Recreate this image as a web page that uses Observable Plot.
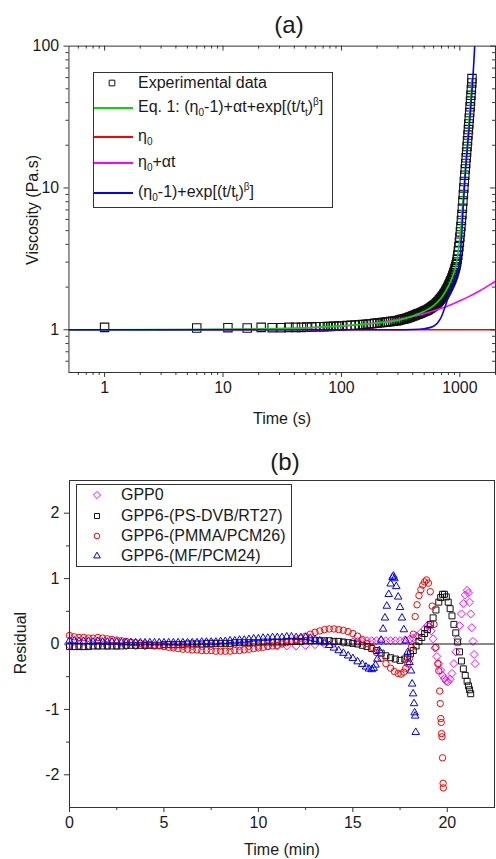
<!DOCTYPE html>
<html lang="en">
<head>
<meta charset="utf-8">
<title>Viscosity fit and residuals</title>
<script src="https://cdn.jsdelivr.net/npm/d3@7"></script>
<script src="https://cdn.jsdelivr.net/npm/@observablehq/plot@0.6"></script>
<style>
  html, body { margin:0; padding:0; background:#fff; }
  body { width:496px; height:859px; overflow:hidden; }
  #page { position:relative; width:496px; height:859px; overflow:hidden;
          font-family:"Liberation Sans", Arial, Helvetica, sans-serif; color:#1a1a1a; }
  #page > * { position:absolute; }
  .t { white-space:nowrap; line-height:18px; font-size:16px; }
  .legend { border:1px solid #333; box-sizing:border-box; background:#fff; }
  sub { font-size:10px; vertical-align:-4px; line-height:0; }
  sup { font-size:10px; vertical-align:7px; line-height:0; }
</style>
</head>
<body>
<div id="page"></div>
<script>
// ---------------- Panel (a) data ----------------
const expTime = [1,6,11,16,21,26,31,36,41,46,51,56,61,66,71,76,81,86,91,96,
  101,111,121,131,141,151,161,171,181,191,
  201,211,221,231,241,251,261,271,281,291,
  301,311,321,331,341,351,361,371,381,391,
  401,411,421,431,441,451,461,471,481,491,
  501,511,521,531,541,551,561,571,581,591,
  601,611,621,631,641,651,661,671,681,691,
  701,711,721,731,741,751,761,771,781,791,
  801,811,821,831,841,851,861,871,881,891,
  901,911,921,931,941,951,961,971,981,991,
  1001,1011,1021,1031,1041,1051,1061,1071,1081,1091,1101,1111,1121,1131,1141,1151,1161,1171,1181,1191,
  1201,1211,1221,1231,1241,1251,1261,1266];
const expVisc = [1.04,1.03,1.035,1.03,1.04,1.035,1.035,1.04,1.04,1.04,1.045,1.045,1.05,1.05,1.05,1.055,1.055,1.06,1.06,1.065,
  1.065,1.07,1.075,1.08,1.085,1.09,1.095,1.10,1.105,1.11,
  1.115,1.12,1.125,1.13,1.135,1.14,1.145,1.15,1.155,1.16,
  1.165,1.172,1.18,1.187,1.195,1.203,1.21,1.22,1.23,1.24,
  1.25,1.26,1.27,1.28,1.29,1.30,1.31,1.32,1.33,1.34,
  1.35,1.36,1.37,1.38,1.39,1.405,1.42,1.435,1.45,1.465,
  1.48,1.495,1.51,1.53,1.55,1.57,1.59,1.615,1.64,1.665,
  1.69,1.715,1.74,1.77,1.8,1.835,1.87,1.91,1.95,1.99,
  2.03,2.075,2.12,2.17,2.22,2.27,2.33,2.39,2.45,2.52,
  2.6,2.69,2.78,2.88,3.0,3.16,3.35,3.58,3.85,4.15,
  4.5,4.9,5.35,5.9,6.5,7.2,8.1,9.0,10.0,11.1,12.3,13.6,14.9,16.3,17.9,19.6,21.5,23.6,25.8,28.3,
  31,34,37.3,41,45,49.5,55,59];

const eq1Time = [0.5,5,20,50,100,200,300,400,500,600,700,800,880,940,980,1020,1060,1100,1140,1180,1220,1250,1266];
const eq1Visc = [1.0,1.003,1.013,1.032,1.065,1.115,1.165,1.25,1.35,1.48,1.69,2.03,2.45,3.0,3.85,5.2,8.0,12.2,17.7,25.6,37,49,59];

const eta0Time = [0.5,2000];
const eta0Visc = [1,1];

const linTime = [0.5,10,50,100,200,300,400,500,600,700,800,900,1000,1200,1400,1600,1800,2000];
const linVisc = [1.0,1.006,1.03,1.06,1.12,1.18,1.24,1.30,1.36,1.42,1.48,1.54,1.6,1.72,1.84,1.96,2.08,2.2];

const expoTime = [0.5,300,400,500,600,650,700,750,800,850,900,950,980,1000,1030,1060,1090,1120,1160,1200,1240,1280,1310,1335];
const expoVisc = [1,1.0,1.004,1.018,1.06,1.12,1.24,1.45,1.7,1.95,2.2,2.5,2.8,3.1,4.4,6.6,9.8,13.7,19.5,27,38,55,75,100];

const xMajorA = [1,10,100,1000];
const xMinorA = [0.6,0.7,0.8,0.9,2,3,4,5,6,7,8,9,20,30,40,50,60,70,80,90,200,300,400,500,600,700,800,900,2000];
const yMajorA = [1,10,100];
const yMinorA = [0.6,0.7,0.8,0.9,2,3,4,5,6,7,8,9,20,30,40,50,60,70,80,90];

// ---------------- Panel (b) data: [time (min), residual] ----------------
const gpp0 = [[0,-0.02],[0.5,-0.02],[1,-0.02],[1.5,-0.03],[2,-0.03],[2.5,-0.03],[3,-0.03],[3.5,-0.03],[4,-0.03],[4.5,-0.03],[5,-0.03],[5.5,-0.03],[6,-0.03],[6.5,-0.03],[7,-0.03],[7.5,-0.03],[8,-0.03],[8.5,-0.03],[9,-0.03],[9.5,-0.03],[10,-0.03],[10.5,-0.03],[11,-0.03],[11.5,-0.03],[12,-0.03],[12.5,-0.02],[13,-0.01],[13.5,0],[14,0.01],[14.5,0.02],[15,0.03],[15.25,0.04],[15.5,0.04],[15.75,0.05],[16,0.05],[16.25,0.05],[16.5,0.05],[16.75,0.05],[17,0.05],[17.25,0.05],[17.5,0.05],[17.75,0.06],[18,0.07],[18.2,0.09],[18.4,0.12],[18.6,0.17],[18.8,0.23],[18.95,0.28],[19.05,0.27],[19.15,0.2],[19.25,0.08],[19.35,-0.06],[19.45,-0.19],[19.55,-0.3],[19.65,-0.4],[19.75,-0.48],[19.85,-0.53],[19.95,-0.57],[20.05,-0.58],[20.15,-0.54],[20.25,-0.45],[20.35,-0.3],[20.45,-0.12],[20.55,0.08],[20.65,0.28],[20.75,0.46],[20.85,0.62],[20.95,0.75],[21.05,0.82],[21.12,0.78],[21.18,0.64],[21.24,0.46],[21.3,0.25],[21.36,0.04],[21.42,-0.16],[21.47,-0.3]];

const psdvb = [[0,-0.04],[0.25,-0.04],[0.5,-0.04],[0.75,-0.04],[1,-0.04],[1.25,-0.03],[1.5,-0.03],[1.75,-0.03],[2,-0.03],[2.25,-0.03],[2.5,-0.03],[2.75,-0.03],[3,-0.02],[3.25,-0.02],[3.5,-0.02],[3.75,-0.02],[4,-0.02],[4.25,-0.02],[4.5,-0.02],[4.75,-0.02],[5,-0.01],[5.25,-0.01],[5.5,-0.01],[5.75,-0.01],[6,-0.01],[6.25,0],[6.5,0],[6.75,0],[7,0],[7.25,0.01],[7.5,0.01],[7.75,0.01],[8,0.01],[8.25,0.01],[8.5,0.01],[8.75,0.02],[9,0.02],[9.25,0.02],[9.5,0.02],[9.75,0.02],[10,0.02],[10.25,0.03],[10.5,0.03],[10.75,0.03],[11,0.03],[11.25,0.03],[11.5,0.04],[11.75,0.04],[12,0.04],[12.25,0.04],[12.5,0.05],[12.75,0.05],[13,0.05],[13.25,0.05],[13.5,0.05],[13.75,0.05],[14,0.04],[14.25,0.04],[14.5,0.03],[14.75,0.02],[15,0.01],[15.25,0],[15.5,-0.02],[15.75,-0.04],[16,-0.07],[16.25,-0.1],[16.5,-0.14],[16.75,-0.18],[17,-0.21],[17.25,-0.23],[17.5,-0.25],[17.75,-0.23],[17.9,-0.2],[18.05,-0.15],[18.2,-0.1],[18.35,-0.03],[18.5,0.04],[18.65,0.1],[18.8,0.16],[18.95,0.22],[19.1,0.3],[19.25,0.4],[19.4,0.52],[19.55,0.64],[19.65,0.71],[19.75,0.76],[19.85,0.76],[19.95,0.72],[20.05,0.64],[20.15,0.54],[20.25,0.43],[20.35,0.3],[20.45,0.17],[20.55,0.03],[20.65,-0.12],[20.75,-0.26],[20.85,-0.38],[20.95,-0.48],[21.05,-0.57],[21.12,-0.64],[21.18,-0.7],[21.24,-0.76]];

const pmma = [[0,0.13],[0.25,0.11],[0.5,0.1],[0.75,0.1],[1,0.09],[1.25,0.09],[1.5,0.1],[1.75,0.09],[2,0.08],[2.25,0.07],[2.5,0.06],[2.75,0.05],[3,0.04],[3.25,0.03],[3.5,0.02],[3.75,0.01],[4,0],[4.25,-0.01],[4.5,-0.02],[4.75,-0.03],[5,-0.04],[5.25,-0.05],[5.5,-0.06],[5.75,-0.07],[6,-0.08],[6.25,-0.08],[6.5,-0.09],[6.75,-0.09],[7,-0.1],[7.25,-0.1],[7.5,-0.1],[7.75,-0.11],[8,-0.11],[8.25,-0.11],[8.5,-0.11],[8.75,-0.1],[9,-0.1],[9.25,-0.09],[9.5,-0.08],[9.75,-0.07],[10,-0.06],[10.25,-0.05],[10.5,-0.04],[10.75,-0.03],[11,-0.02],[11.25,0],[11.5,0.02],[11.75,0.04],[12,0.06],[12.25,0.09],[12.5,0.12],[12.75,0.15],[13,0.18],[13.25,0.2],[13.5,0.22],[13.75,0.23],[14,0.23],[14.25,0.22],[14.5,0.21],[14.75,0.19],[15,0.16],[15.25,0.12],[15.5,0.07],[15.75,0.01],[16,-0.05],[16.25,-0.13],[16.5,-0.22],[16.75,-0.3],[17,-0.37],[17.2,-0.42],[17.4,-0.45],[17.55,-0.46],[17.7,-0.43],[17.8,-0.37],[17.9,-0.3],[18,-0.22],[18.1,-0.05],[18.2,0.15],[18.3,0.42],[18.4,0.6],[18.5,0.74],[18.6,0.83],[18.7,0.9],[18.8,0.95],[18.9,0.98],[19,0.93],[19.1,0.8],[19.2,0.58],[19.3,0.3],[19.4,-0.05],[19.5,-0.3],[19.55,-0.41],[19.6,-0.72],[19.63,-0.91],[19.66,-1.14],[19.68,-1.2],[19.7,-1.37],[19.72,-1.42],[19.75,-1.74],[19.78,-2.13],[19.79,-2.2]];

const mf = [[0,0.05],[0.25,0.05],[0.5,0.04],[0.75,0.04],[1,0.04],[1.25,0.03],[1.5,0.04],[1.75,0.03],[2,0.03],[2.25,0.03],[2.5,0.03],[2.75,0.02],[3,0.02],[3.25,0.02],[3.5,0.02],[3.75,0.02],[4,0.02],[4.25,0.02],[4.5,0.02],[4.75,0.02],[5,0.02],[5.25,0.02],[5.5,0.02],[5.75,0.02],[6,0.02],[6.25,0.02],[6.5,0.02],[6.75,0.02],[7,0.03],[7.25,0.03],[7.5,0.03],[7.75,0.03],[8,0.04],[8.25,0.04],[8.5,0.05],[8.75,0.05],[9,0.06],[9.25,0.06],[9.5,0.07],[9.75,0.08],[10,0.08],[10.25,0.09],[10.5,0.09],[10.75,0.1],[11,0.1],[11.25,0.1],[11.5,0.11],[11.75,0.11],[12,0.1],[12.25,0.1],[12.5,0.1],[12.75,0.09],[13,0.07],[13.25,0.05],[13.5,0.02],[13.75,-0.02],[14,-0.06],[14.25,-0.1],[14.5,-0.14],[14.75,-0.18],[15,-0.22],[15.25,-0.27],[15.5,-0.31],[15.7,-0.35],[15.85,-0.38],[16,-0.39],[16.1,-0.37],[16.2,-0.32],[16.3,-0.23],[16.4,-0.1],[16.5,0.06],[16.6,0.23],[16.7,0.4],[16.8,0.58],[16.9,0.76],[17,0.92],[17.1,1.02],[17.15,1.04],[17.2,1.0],[17.3,0.88],[17.4,0.72],[17.5,0.56],[17.6,0.4],[17.7,0.22],[17.8,0.05],[17.9,-0.13],[18,-0.28],[18.08,-0.41],[18.14,-0.61],[18.19,-0.76],[18.24,-0.91],[18.27,-1.05],[18.3,-1.1],[18.33,-1.35]];

const xMajorB = [0,5,10,15,20];
const xMinorB = [2.5,7.5,12.5,17.5];
const yMajorB = [-2,-1,0,1,2];
const yMinorB = [-1.5,-0.5,0.5,1.5];

// ---------------- helpers ----------------
const FONT = '"Liberation Sans", Arial, Helvetica, sans-serif';
const page = document.getElementById("page");
const rows = (ts, vs) => ts.map((t, i) => ({t, v: vs[i]}));
const pairs = (p) => p.map(([t, v]) => ({t, v}));
const AXC = "#333";

function text(html, x, y, {size = 16, anchor = "middle", rotate = 0} = {}) {
  const d = document.createElement("div");
  d.className = "t";
  d.style.fontSize = size + "px";
  d.style.lineHeight = Math.round(size * 1.15) + "px";
  d.innerHTML = html;
  d.style.left = x + "px";
  d.style.top = y + "px";
  const tx = anchor === "start" ? "0" : "-50%";
  d.style.transform = `translate(${tx},-50%)` + (rotate ? ` rotate(${rotate}deg)` : "");
  page.appendChild(d);
  return d;
}
function box(x, y, w, h) {
  const d = document.createElement("div");
  d.className = "legend";
  Object.assign(d.style, {left: x + "px", top: y + "px", width: w + "px", height: h + "px"});
  page.appendChild(d);
}
function lineSample(x1, x2, y, color) {
  const d = document.createElement("div");
  Object.assign(d.style, {left: x1 + "px", top: (y - 1) + "px", width: (x2 - x1) + "px", height: "2px", background: color});
  page.appendChild(d);
}
function symbolSample(sym, r, color, cx, cy) {
  const ns = "http://www.w3.org/2000/svg";
  const s = document.createElementNS(ns, "svg");
  s.setAttribute("width", 16); s.setAttribute("height", 16);
  s.style.left = (cx - 8) + "px"; s.style.top = (cy - 8) + "px"; s.style.position = "absolute";
  const p = document.createElementNS(ns, "path");
  p.setAttribute("d", d3.symbol(sym, Math.PI * r * r)());
  p.setAttribute("transform", "translate(8,8)");
  p.setAttribute("fill", "none"); p.setAttribute("stroke", color); p.setAttribute("stroke-width", 1);
  s.appendChild(p);
  page.appendChild(s);
}

// ---------------- Panel (a) ----------------
const HA = 430, WA = 500, mlA = 69, mrA = 1, mtA = 46, mbA = 55;
const fhA = HA - mtA - mbA, fwA = WA - mlA - mrA;
const chartA = Plot.plot({
  width: WA, height: HA,
  marginLeft: mlA, marginRight: mrA, marginTop: mtA, marginBottom: mbA,
  x: {type: "log", domain: [0.5, 2000]},
  y: {type: "log", domain: [0.5, 100]},
  style: {fontFamily: FONT, fontSize: "16px", color: "#1a1a1a", background: "transparent"},
  marks: [
    Plot.dot(rows(expTime, expVisc), {x: "t", y: "v", symbol: d3.symbolSquare2, r: 5.4, stroke: "#111", fill: "none", strokeWidth: 1.1}),
    Plot.line(rows(eta0Time, eta0Visc), {x: "t", y: "v", stroke: "#ff0000", strokeWidth: 1.6, clip: true}),
    Plot.line(rows(linTime, linVisc), {x: "t", y: "v", stroke: "#ff00ff", strokeWidth: 1.6, curve: "monotone-x", clip: true}),
    Plot.line(rows(eq1Time, eq1Visc), {x: "t", y: "v", stroke: "#00e000", strokeWidth: 1.6, curve: "monotone-x", clip: true}),
    Plot.line(rows(expoTime, expoVisc), {x: "t", y: "v", stroke: "#0000ff", strokeWidth: 1.6, curve: "monotone-x", clip: true}),
    Plot.frame({stroke: AXC, strokeWidth: 1}),
    Plot.axisX(xMajorA, {tickSize: 5, tickPadding: 4, tickFormat: d => String(d), label: null, stroke: AXC}),
    Plot.axisX(xMinorA, {tickSize: 3, tickFormat: () => "", label: null, stroke: AXC}),
    Plot.axisY(yMajorA, {tickSize: 5, tickPadding: 5, tickFormat: d => String(d), label: null, stroke: AXC}),
    Plot.axisY(yMinorA, {tickSize: 3, tickFormat: () => "", label: null, stroke: AXC}),
    Plot.tickX(xMajorA, {x: d => d, insetBottom: fhA - 5, stroke: AXC}),
    Plot.tickX(xMinorA, {x: d => d, insetBottom: fhA - 3, stroke: AXC}),
    Plot.tickY(yMajorA, {y: d => d, insetLeft: fwA - 5, stroke: AXC}),
    Plot.tickY(yMinorA, {y: d => d, insetLeft: fwA - 3, stroke: AXC})
  ]
});
chartA.style.position = "absolute"; chartA.style.left = "0px"; chartA.style.top = "0px";
page.appendChild(chartA);

// ---------------- Panel (b) ----------------
const HB = 429, WB = 496, mlB = 69, mrB = 2, mtB = 50, mbB = 52;
const chartB = Plot.plot({
  width: WB, height: HB,
  marginLeft: mlB, marginRight: mrB, marginTop: mtB, marginBottom: mbB,
  x: {domain: [0, 22.5]},
  y: {domain: [-2.5, 2.5]},
  style: {fontFamily: FONT, fontSize: "16px", color: "#1a1a1a", background: "transparent"},
  marks: [
    Plot.dot(pairs(gpp0), {x: "t", y: "v", symbol: d3.symbolDiamond2, r: 3.6, stroke: "#ff00ff", fill: "none", strokeWidth: 1}),
    Plot.dot(pairs(psdvb), {x: "t", y: "v", symbol: d3.symbolSquare2, r: 3.8, stroke: "#111", fill: "none", strokeWidth: 1}),
    Plot.dot(pairs(pmma), {x: "t", y: "v", symbol: "circle", r: 3.2, stroke: "#ff0000", fill: "none", strokeWidth: 1}),
    Plot.dot(pairs(mf), {x: "t", y: "v", symbol: d3.symbolTriangle2, r: 3.6, stroke: "#0000ff", fill: "none", strokeWidth: 1}),
    Plot.ruleY([0], {stroke: "#111", strokeWidth: 1}),
    Plot.frame({stroke: AXC, strokeWidth: 1}),
    Plot.axisX(xMajorB, {tickSize: 5, tickPadding: 4, tickFormat: d => String(d), label: null, stroke: AXC}),
    Plot.axisX(xMinorB, {tickSize: 3, tickFormat: () => "", label: null, stroke: AXC}),
    Plot.axisY(yMajorB, {tickSize: 5, tickPadding: 5, tickFormat: d => String(d), label: null, stroke: AXC}),
    Plot.axisY(yMinorB, {tickSize: 3, tickFormat: () => "", label: null, stroke: AXC})
  ]
});
chartB.style.position = "absolute"; chartB.style.left = "0px"; chartB.style.top = "430px";
page.appendChild(chartB);

// ---------------- titles and axis labels ----------------
text("(a)", 289, 25, {size: 24});
text("Time (s)", 282, 419, {size: 16});
text("Viscosity (Pa.s)", 33, 210, {size: 16, rotate: -90});
text("(b)", 285, 462, {size: 24});
text("Time (min)", 282, 850, {size: 16});
text("Residual", 21, 643, {size: 16, rotate: -90});

// ---------------- legend (a) ----------------
box(93, 72, 240, 136);
symbolSample(d3.symbolSquare2, 3.6, "#111", 112, 83);
text("Experimental data", 138, 83, {anchor: "start"});
lineSample(94, 133, 108, "#00e000");
text("Eq. 1: (η<sub>0</sub>-1)+αt+exp[(t/t<sub>t</sub>)<sup>β</sup>]", 138, 107, {anchor: "start"});
lineSample(94, 133, 137, "#ff0000");
text("η<sub>0</sub>", 138, 136, {anchor: "start"});
lineSample(94, 133, 163, "#ff00ff");
text("η<sub>0</sub>+αt", 138, 162, {anchor: "start"});
lineSample(94, 133, 193, "#0000ff");
text("(η<sub>0</sub>-1)+exp[(t/t<sub>t</sub>)<sup>β</sup>]", 138, 192, {anchor: "start"});

// ---------------- legend (b) ----------------
box(76, 484, 216, 83);
symbolSample(d3.symbolDiamond2, 3.2, "#ff00ff", 97, 495);
text("GPP0", 121, 495, {anchor: "start"});
symbolSample(d3.symbolSquare2, 3.2, "#111", 97, 516);
text("GPP6-(PS-DVB/RT27)", 121, 516, {anchor: "start"});
symbolSample(d3.symbolCircle, 2.8, "#ff0000", 97, 536);
text("GPP6-(PMMA/PCM26)", 121, 536, {anchor: "start"});
symbolSample(d3.symbolTriangle2, 3.2, "#0000ff", 97, 556);
text("GPP6-(MF/PCM24)", 121, 556, {anchor: "start"});
</script>
</body>
</html>
